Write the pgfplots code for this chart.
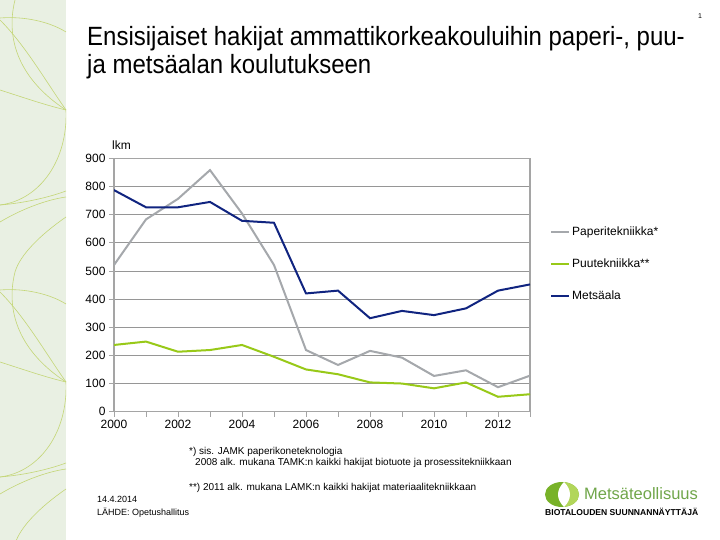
\documentclass[border=0pt]{standalone}
\usepackage{fontspec}
\setmainfont{Liberation Sans}
\usepackage{pgfplots}
\pgfplotsset{compat=1.18}
\definecolor{stripe}{RGB}{233,240,227}
\definecolor{stripeline}{RGB}{196,214,118}
\definecolor{papgray}{RGB}{165,168,172}
\definecolor{puugreen}{RGB}{152,201,24}
\definecolor{metsablue}{RGB}{16,36,128}
\definecolor{gridgray}{RGB}{150,150,150}
\definecolor{axgray}{RGB}{165,165,165}
\definecolor{logodark}{RGB}{120,178,40}
\definecolor{logolight}{RGB}{178,214,90}
\definecolor{logotext}{RGB}{112,166,74}

\begin{document}
\begin{tikzpicture}[x=1pt,y=1pt]
\fill[white] (0,0) rectangle (720,540);
% decorative stripe on the left, drawn in pixel coordinates (y down)
\begin{scope}[shift={(0,540)},yscale=-1]
  \fill[stripe] (0,0) rectangle (66,540);
  \clip (0,0) rectangle (66,540);
  \foreach \o in {-272,0,272}{
    \draw[stripeline,line width=0.6pt] (15,\o) .. controls (5,\o+40) and (20,\o+80) .. (66,\o+110);
    \draw[stripeline,line width=0.6pt] (0,\o+18) .. controls (25,\o+16) and (50,\o+22) .. (66,\o+32);
    \draw[stripeline,line width=0.6pt] (0,\o+20) .. controls (25,\o+45) and (45,\o+80) .. (66,\o+110);
    \draw[stripeline,line width=0.6pt] (0,\o+90) .. controls (25,\o+98) and (45,\o+105) .. (66,\o+110);
    \draw[stripeline,line width=0.6pt] (66,\o+110) .. controls (68,\o+160) and (40,\o+200) .. (0,\o+205);
    \draw[stripeline,line width=0.6pt] (0,\o+205) .. controls (25,\o+203) and (50,\o+197) .. (66,\o+191);
    \draw[stripeline,line width=0.6pt] (0,\o+222) .. controls (20,\o+210) and (45,\o+200) .. (66,\o+197);
    \draw[stripeline,line width=0.6pt] (66,\o+217) .. controls (40,\o+235) and (20,\o+255) .. (15,\o+272);
  }
\end{scope}

% title and slide number
\node[anchor=base west,inner sep=0,font=\fontsize{24}{28}\selectfont] at (87,494) {\scalebox{1}[1.1]{Ensisijaiset hakijat ammattikorkeakouluihin paperi-, puu-}};
\node[anchor=base west,inner sep=0,font=\fontsize{24}{28}\selectfont] at (87,466) {\scalebox{1}[1.1]{ja metsäalan koulutukseen}};
\node[anchor=base,inner sep=0,font=\fontsize{7}{8}\selectfont] at (700,521) {1};

\node[anchor=base west,inner sep=0,font=\fontsize{12}{14}\selectfont] at (112,390) {lkm};

\begin{axis}[
  at={(114pt,128.3pt)}, anchor=south west,
  scale only axis, width=416pt, height=253.4pt,
  xmin=2000, xmax=2013, ymin=0, ymax=900,
  xtick={2000,2002,...,2012},
  minor xtick={2001,2003,...,2013},
  ytick={0,100,...,900},
  xticklabel style={/pgf/number format/1000 sep={}},
  /pgf/number format/assume math mode=true,
  tick label style={font=\fontsize{12}{14}\selectfont},
  tick align=outside,
  major tick length=5pt, minor tick length=5pt,
  tick style={axgray,line width=0.8pt},
  xtick pos=bottom, ytick pos=left,
  axis line style={axgray,line width=1.2pt},
  ymajorgrids, grid style={gridgray,line width=0.8pt},
  legend style={at={(1.048,0.583)}, anchor=west, draw=none, fill=none,
    font=\fontsize{12}{14}\selectfont, row sep=18pt, inner xsep=0pt,
    cells={anchor=west}},
  legend image code/.code={\draw[#1] (0pt,0pt) -- (18pt,0pt);},
]
\addplot[papgray, line width=2pt] coordinates {
 (2000,521) (2001,683) (2002,756) (2003,858) (2004,704) (2005,521) (2006,219)
 (2007,166) (2008,216) (2009,192) (2010,127) (2011,147) (2012,87) (2013,128)};
\addplot[puugreen, line width=2pt] coordinates {
 (2000,237) (2001,249) (2002,213) (2003,219) (2004,237) (2005,195) (2006,150)
 (2007,133) (2008,104) (2009,100) (2010,83) (2011,104) (2012,53) (2013,62)};
\addplot[metsablue, line width=2pt] coordinates {
 (2000,787) (2001,726) (2002,726) (2003,745) (2004,678) (2005,671) (2006,420)
 (2007,430) (2008,332) (2009,358) (2010,343) (2011,367) (2012,430) (2013,452)};
\legend{Paperitekniikka*,Puutekniikka**,Metsäala}
\end{axis}

% notes
\node[anchor=base west,inner sep=0,font=\fontsize{10}{12}\selectfont] at (189,85) {*) sis. JAMK paperikoneteknologia};
\node[anchor=base west,inner sep=0,font=\fontsize{10}{12}\selectfont] at (195,74) {2008 alk. mukana TAMK:n kaikki hakijat biotuote ja prosessitekniikkaan};
\node[anchor=base west,inner sep=0,font=\fontsize{10}{12}\selectfont] at (189,49.5) {**) 2011 alk. mukana LAMK:n kaikki hakijat materiaalitekniikkaan};
\node[anchor=base west,inner sep=0,font=\fontsize{9}{11}\selectfont] at (97,37.5) {14.4.2014};
\node[anchor=base west,inner sep=0,font=\fontsize{9}{11}\selectfont] at (97,24) {LÄHDE: Opetushallitus};

% logo
\fill[logodark] (562,45.5) ellipse [x radius=17, y radius=12.5];
\begin{scope}
  \clip (562,45.5) ellipse [x radius=17, y radius=12.5];
  \fill[logolight] (564,30) rectangle (580,60);
\end{scope}
\fill[white] (564,58) .. controls (556,50) and (556,41) .. (564,33) .. controls (572,41) and (572,50) .. (564,58);
\node[anchor=base west,inner sep=0,text=logotext,font=\fontsize{16.5}{18}\selectfont] at (584,40) {Metsäteollisuus};
\node[anchor=base west,inner sep=0,font=\bfseries] at (545,24) {\resizebox{153pt}{!}{BIOTALOUDEN SUUNNANNÄYTTÄJÄ}};
\end{tikzpicture}
\end{document}
